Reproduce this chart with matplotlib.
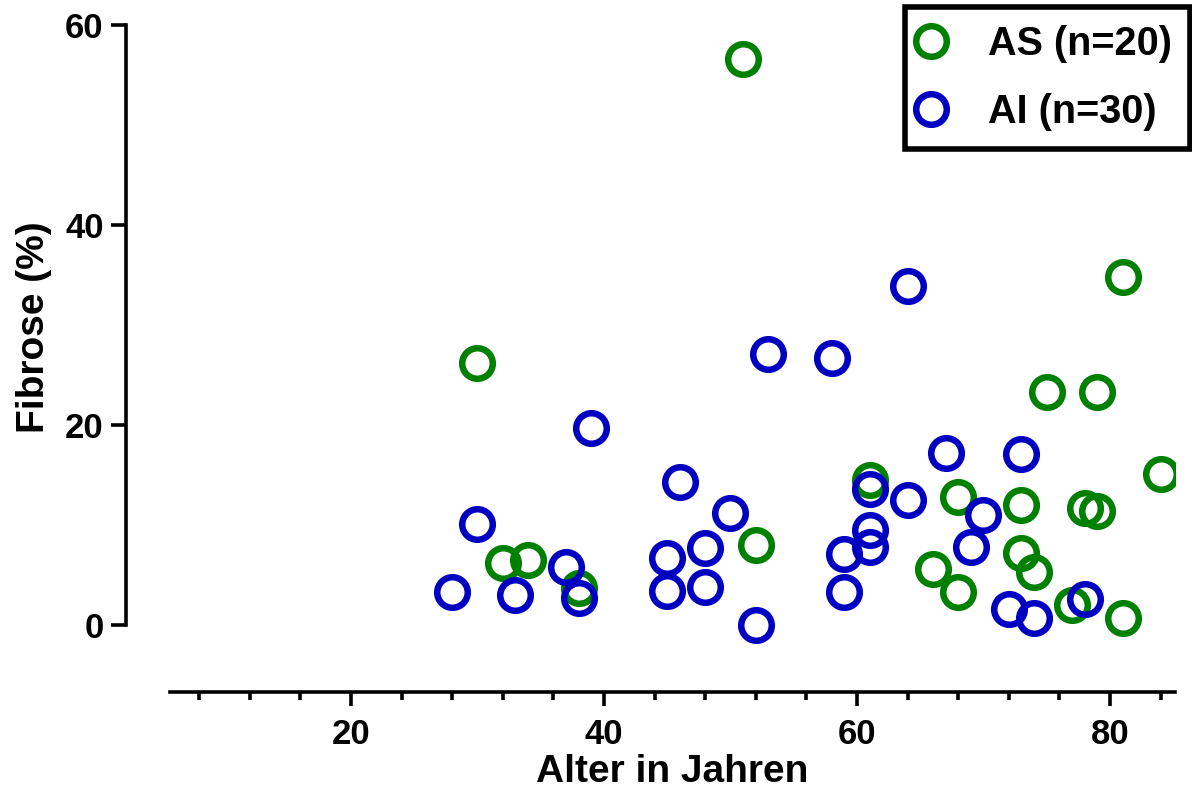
import matplotlib
matplotlib.use("Agg")
import matplotlib.pyplot as plt
import matplotlib.ticker as ticker

plt.rcParams['font.family'] = ['Liberation Sans', 'DejaVu Sans']
plt.rcParams['font.weight'] = 'bold'

# AS group (green)
as_age = [51, 30, 81, 75, 79, 84, 61, 68, 73, 78, 79, 52, 32, 34, 38, 66, 73, 74, 68, 77, 81]
as_fib = [56.6, 26.2, 34.8, 23.3, 23.3, 15.1, 14.5, 12.8, 12.0, 11.7, 11.4, 8.0, 6.2, 6.5, 3.7,
          5.6, 7.2, 5.3, 3.3, 2.0, 0.7]

# AI group (blue)
ai_age = [64, 53, 58, 39, 67, 73, 46, 61, 64, 50, 70, 30, 61, 69, 61, 48, 59, 45, 37, 28,
          33, 38, 45, 48, 59, 52, 72, 74, 78]
ai_fib = [33.9, 27.1, 26.7, 19.7, 17.2, 17.1, 14.3, 13.6, 12.5, 11.2, 11.0, 10.1, 9.5, 7.8, 7.8,
          7.7, 7.1, 6.7, 5.8, 3.3, 3.0, 2.7, 3.4, 3.8, 3.3, 0.0, 1.6, 0.7, 2.6]

green = '#008000'
blue = '#0000c0'

fig = plt.figure(figsize=(11.92, 7.89), dpi=100)
ax = fig.add_axes([170 / 1192, (789 - 692) / 789, (1174.5 - 170) / 1192, (692 - 15) / 789])

ms = 22
mew = 4.7
ax.plot(as_age, as_fib, 'o', ms=ms, mfc='none', mec=green, mew=mew, label='AS (n=20)')
ax.plot(ai_age, ai_fib, 'o', ms=ms, mfc='none', mec=blue, mew=mew, label='AI (n=30)')

ax.set_xlim(5.7, 85.1)
ax.set_ylim(-6.7, 61)

for s in ['top', 'right']:
    ax.spines[s].set_visible(False)
ax.spines['left'].set_position(('outward', 31.7))
ax.spines['left'].set_bounds(0, 60)
ax.spines['left'].set_linewidth(2.6)
ax.spines['bottom'].set_linewidth(2.6)

ax.xaxis.set_major_locator(ticker.FixedLocator([20, 40, 60, 80]))
ax.xaxis.set_minor_locator(ticker.FixedLocator([8, 12, 16, 24, 28, 32, 36, 44, 48, 52, 56,
                                                64, 68, 72, 76, 84]))
ax.yaxis.set_major_locator(ticker.FixedLocator([0, 20, 40, 60]))
ax.tick_params(axis='x', which='major', length=10, width=2.6, labelsize=25, pad=9)
ax.tick_params(axis='x', which='minor', length=6, width=2.6)
ax.tick_params(axis='y', which='major', length=11, width=2.6, labelsize=25, pad=5)

ax.set_xlabel('Alter in Jahren', fontsize=28, fontweight='bold', labelpad=2)
ax.set_ylabel('Fibrose (%)', fontsize=28, fontweight='bold')
ax.yaxis.set_label_coords(-0.1174, 0.539)

leg = ax.legend(loc='upper right', bbox_to_anchor=(1190 / 1192, 1 - 7 / 789),
                bbox_transform=fig.transFigure, borderaxespad=0, fontsize=28.5,
                fancybox=False, edgecolor='black', framealpha=1,
                handlelength=0.4, handletextpad=1.25, borderpad=0.45, labelspacing=0.76)
leg.get_frame().set_linewidth(4)

fig.savefig('out.png', dpi=100)
